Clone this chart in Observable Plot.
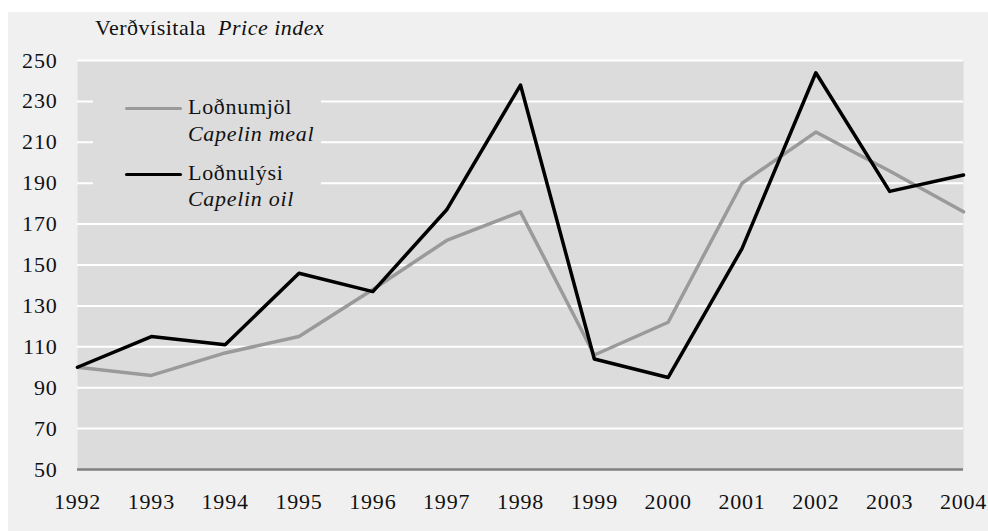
<!DOCTYPE html>
<html>
<head>
<meta charset="utf-8">
<script src="https://cdn.jsdelivr.net/npm/d3@7"></script>
<script src="https://cdn.jsdelivr.net/npm/@observablehq/plot@0.6"></script>
<style>
  html, body { margin: 0; padding: 0; background: #ffffff; }
  body { width: 988px; height: 531px; position: relative; overflow: hidden;
         font-family: "Liberation Serif", "Tinos", "Noto Serif", "FreeSerif", "Times New Roman", Times, "DejaVu Serif", serif; }
  #panel { position: absolute; left: 8px; top: 12px; width: 980px; height: 519px; background: #f0f0f0; }
  #title { position: absolute; left: 95px; top: 16.6px; font-size: 22px; line-height: 22px; letter-spacing: 0.5px; color: #111; white-space: pre; }
  #chart { position: absolute; left: 0; top: 0; }
  #legend { position: absolute; left: 93px; top: 88px; width: 228px; height: 128px; background: #dcdcdc; }
  .li { position: absolute; left: 95px; font-size: 22px; line-height: 22px; letter-spacing: 0.7px; color: #111; white-space: nowrap; }
  .sw { position: absolute; left: 32px; width: 57px; border-radius: 2px; }
</style>
</head>
<body>
<div id="panel"></div>
<div id="chart"></div>
<div id="title">Verðvísitala  <i>Price index</i></div>
<div id="legend"></div>
<script>
const years = [1992, 1993, 1994, 1995, 1996, 1997, 1998, 1999, 2000, 2001, 2002, 2003, 2004];
const capelinMeal = [100, 96, 107, 115, 138, 162, 176, 106, 122, 190, 215, 196, 176];
const capelinOil  = [100, 115, 111, 146, 137, 177, 238, 104, 95, 158, 244, 186, 194];
const yTicks = [50, 70, 90, 110, 130, 150, 170, 190, 210, 230, 250];
const seriesNames = [
  {is: "Loðnumjöl", en: "Capelin meal", color: "#9a9a9a", width: 3.5},
  {is: "Loðnulýsi", en: "Capelin oil", color: "#000000", width: 3.5}
];

const meal = years.map((y, i) => ({year: y, value: capelinMeal[i]}));
const oil = years.map((y, i) => ({year: y, value: capelinOil[i]}));

const chart = Plot.plot({
  width: 988,
  height: 531,
  marginLeft: 77,
  marginRight: 25,
  marginTop: 60,
  marginBottom: 62,
  style: {fontFamily: "'Liberation Serif', Tinos, 'Noto Serif', FreeSerif, 'Times New Roman', Times, 'DejaVu Serif', serif", fontSize: "22px", color: "#111", background: "transparent", letterSpacing: "0.8px"},
  x: {domain: [1992, 2004], ticks: years, tickFormat: d => String(d), tickSize: 0, tickPadding: 24, label: null},
  y: {domain: [50, 250], ticks: yTicks, tickSize: 0, tickPadding: 20, label: null},
  marks: [
    Plot.frame({fill: "#dcdcdc", stroke: null}),
    Plot.ruleY(yTicks.filter(t => t > 50), {stroke: "#ffffff", strokeWidth: 2}),
    Plot.ruleY([50], {stroke: "#808080", strokeWidth: 2.5}),
    Plot.line(meal, {x: "year", y: "value", stroke: seriesNames[0].color, strokeWidth: seriesNames[0].width}),
    Plot.line(oil, {x: "year", y: "value", stroke: seriesNames[1].color, strokeWidth: seriesNames[1].width})
  ]
});
document.getElementById("chart").appendChild(chart);

const legend = document.getElementById("legend");
const rowTops = [7.6, 35.3, 73.6, 100.3];
const swatchCenters = [20.3, 86.3];
seriesNames.forEach((s, i) => {
  const sw = document.createElement("div");
  sw.className = "sw";
  sw.style.top = (swatchCenters[i] - s.width / 2) + "px";
  sw.style.height = s.width + "px";
  sw.style.background = s.color;
  legend.appendChild(sw);
  const a = document.createElement("div");
  a.className = "li";
  a.style.top = rowTops[2 * i] + "px";
  a.textContent = s.is;
  legend.appendChild(a);
  const b = document.createElement("div");
  b.className = "li";
  b.style.top = rowTops[2 * i + 1] + "px";
  b.innerHTML = "<i>" + s.en + "</i>";
  legend.appendChild(b);
});
</script>
</body>
</html>
